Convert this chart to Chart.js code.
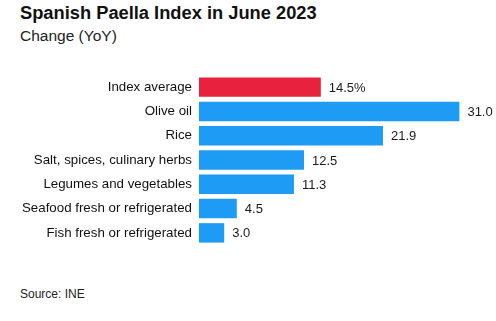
<!DOCTYPE html>
<html>
<head>
<meta charset="utf-8">
<script src="https://cdn.jsdelivr.net/npm/chart.js@4"></script>
<style>
    body { margin: 0; background: #fff; font-family: "Liberation Sans", Arial, sans-serif; color: #111; }
    #wrap { position: relative; width: 496px; height: 321px; overflow: hidden; }
    .titulo { position: absolute; left: 20px; top: 2px; font-size: 18.3px; font-weight: bold; }
    .subtitulo { position: absolute; left: 20px; top: 27px; font-size: 15.5px; color: #222; }
    .fonte { position: absolute; left: 20px; top: 287px; font-size: 12px; color: #222; }
    #grafico { position: absolute; left: 0; top: 60px; }
</style>
</head>
<body>
<div id="wrap">
    <div class="titulo">Spanish Paella Index in June 2023</div>
    <div class="subtitulo">Change (YoY)</div>
    <canvas id="grafico" width="496" height="200"></canvas>
    <div class="fonte">Source: INE</div>
</div>
<script>
const categorias = ['Index average', 'Olive oil', 'Rice', 'Salt, spices, culinary herbs',
    'Legumes and vegetables', 'Seafood fresh or refrigerated', 'Fish fresh or refrigerated'];
const valores = [14.5, 31.0, 21.9, 12.5, 11.3, 4.5, 3.0];
const rotulos = ['14.5%', '31.0', '21.9', '12.5', '11.3', '4.5', '3.0'];
const cores = ['#e8213f', '#1e9bf5', '#1e9bf5', '#1e9bf5', '#1e9bf5', '#1e9bf5', '#1e9bf5'];

const rotulosPlugin = {
    id: 'rotulos',
    afterDatasetsDraw(chart) {
        const ctx = chart.ctx;
        const meta = chart.getDatasetMeta(0);
        ctx.save();
        ctx.font = '13px "Liberation Sans", Arial, sans-serif';
        ctx.fillStyle = '#1a1a1a';
        ctx.textAlign = 'left';
        ctx.textBaseline = 'middle';
        meta.data.forEach((barra, i) => {
            ctx.fillText(rotulos[i], barra.x + 8, barra.y + 1);
        });
        ctx.restore();
    }
};

new Chart(document.getElementById('grafico'), {
    type: 'bar',
    data: {
        labels: categorias,
        datasets: [{
            data: valores,
            backgroundColor: cores,
            borderWidth: 0,
            barPercentage: 0.8,
            categoryPercentage: 1
        }]
    },
    options: {
        indexAxis: 'y',
        responsive: false,
        animation: false,
        layout: { padding: { top: 9, bottom: 10, left: 0, right: 3 } },
        plugins: { legend: { display: false }, tooltip: { enabled: false } },
        scales: {
            x: { display: false, min: 0, max: 35 },
            y: {
                grid: { display: false, drawTicks: false },
                border: { display: false },
                ticks: {
                    color: '#111',
                    padding: 7,
                    font: { family: '"Liberation Sans", Arial, sans-serif', size: 13.3 }
                },
                afterFit(escala) { escala.width = 199; }
            }
        }
    },
    plugins: [rotulosPlugin]
});
</script>
</body>
</html>
